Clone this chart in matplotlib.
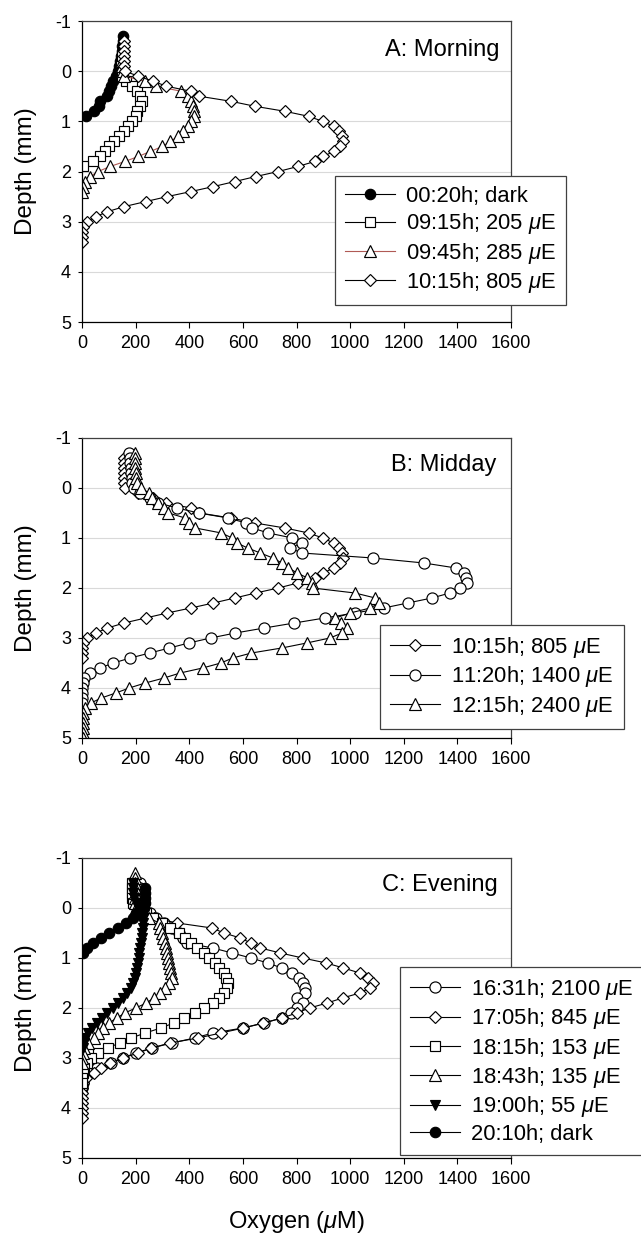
import matplotlib
matplotlib.use("Agg")
import matplotlib.pyplot as plt

plt.rcParams['font.family'] = ['Liberation Sans', 'DejaVu Sans']
plt.rcParams['mathtext.fontset'] = 'custom'
plt.rcParams['mathtext.rm'] = 'Liberation Sans'
plt.rcParams['mathtext.it'] = 'Liberation Sans:italic'
plt.rcParams['axes.unicode_minus'] = False

# ---- Panel A: morning ----
a_dark_depth = [-0.7, -0.6, -0.5, -0.4, -0.3, -0.2, -0.1, 0.0, 0.1, 0.2, 0.3, 0.4, 0.5, 0.6, 0.7, 0.8, 0.9]
a_dark_o2 = [154, 152, 150, 148, 145, 140, 137, 133, 125, 117, 108, 102, 95, 68, 62, 45, 15]

a_sq_depth = [-0.3, -0.2, -0.1, 0.0, 0.1, 0.2, 0.3, 0.4, 0.5, 0.6, 0.7, 0.8, 0.9, 1.0, 1.1, 1.2, 1.3, 1.4,
              1.5, 1.6, 1.7, 1.8, 1.9]
a_sq_o2 = [148, 148, 147, 148, 150, 165, 185, 204, 216, 223, 217, 205, 200, 186, 172, 156, 137, 120,
           101, 84, 68, 42, 5]

a_tri_depth = [-0.2, -0.1, 0.0, 0.1, 0.2, 0.3, 0.4, 0.5, 0.6, 0.7, 0.8, 0.9, 1.0, 1.1, 1.2, 1.3, 1.4,
               1.5, 1.6, 1.7, 1.8, 1.9, 2.0, 2.1, 2.2, 2.3, 2.4]
a_tri_o2 = [150, 150, 152, 158, 235, 275, 370, 395, 408, 413, 418, 416, 408, 395, 378, 358, 330,
            300, 255, 210, 160, 105, 60, 30, 12, 3, 0]

# 10:15h profile, shown in both A and B
d1015_depth = [-0.6, -0.5, -0.4, -0.3, -0.2, -0.1, 0.0, 0.1, 0.2, 0.3, 0.4, 0.5, 0.6, 0.7, 0.8, 0.9,
               1.0, 1.1, 1.2, 1.3, 1.4, 1.5, 1.6, 1.7, 1.8, 1.9, 2.0, 2.1, 2.2, 2.3, 2.4, 2.5, 2.6,
               2.7, 2.8, 2.9, 3.0, 3.1, 3.2, 3.3, 3.4]
d1015_o2 = [158, 157, 156, 155, 155, 156, 160, 210, 265, 315, 405, 438, 555, 645, 757, 845,
            898, 938, 960, 970, 972, 962, 938, 900, 868, 805, 732, 648, 570, 490, 406, 318, 237,
            157, 95, 52, 18, 5, 1, 0, 0]

# ---- Panel B: midday ----
b_circ_depth = [-0.7, -0.6, -0.5, -0.4, -0.3, -0.2, -0.1, 0.0, 0.1, 0.2, 0.3, 0.4, 0.5, 0.6, 0.7,
                0.8, 0.9, 1.0, 1.1, 1.2, 1.3, 1.4, 1.5, 1.6, 1.7, 1.8, 1.9, 2.0, 2.1, 2.2, 2.3, 2.4,
                2.5, 2.6, 2.7, 2.8, 2.9, 3.0, 3.1, 3.2, 3.3, 3.4, 3.5, 3.6, 3.7, 3.8, 3.9, 4.0, 4.1,
                4.2, 4.3]
b_circ_o2 = [175, 178, 180, 182, 183, 185, 188, 195, 215, 255, 285, 355, 435, 545, 612,
             635, 695, 785, 820, 775, 820, 1085, 1275, 1395, 1425, 1432, 1437, 1410, 1372, 1305, 1215, 1125,
             1018, 905, 792, 680, 572, 480, 398, 326, 253, 180, 117, 67, 30, 8, 2, 0, 0,
             0, 0]

b_tri_depth = [-0.7, -0.6, -0.5, -0.4, -0.3, -0.2, -0.1, 0.0, 0.1, 0.2, 0.3, 0.4, 0.5, 0.6, 0.7,
               0.8, 0.9, 1.0, 1.1, 1.2, 1.3, 1.4, 1.5, 1.6, 1.7, 1.8, 1.9, 2.0, 2.1, 2.2, 2.3, 2.4,
               2.5, 2.6, 2.7, 2.8, 2.9, 3.0, 3.1, 3.2, 3.3, 3.4, 3.5, 3.6, 3.7, 3.8, 3.9, 4.0, 4.1,
               4.2, 4.3, 4.4, 4.5, 4.6, 4.7, 4.8, 4.9, 5.0]
b_tri_o2 = [197, 197, 198, 198, 200, 202, 205, 220, 250, 262, 285, 306, 322, 385, 400,
            423, 520, 560, 578, 618, 665, 712, 745, 770, 803, 841, 858, 860, 1018, 1094, 1109, 1075,
            1000, 945, 965, 990, 970, 925, 838, 745, 632, 562, 518, 450, 366, 306, 236, 176, 126,
            72, 33, 11, 5, 3, 2, 2, 2, 2]

# ---- Panel C: evening ----
c_circ_depth = [-0.5, -0.4, -0.3, -0.2, -0.1, 0.0, 0.1, 0.2, 0.3, 0.4, 0.5, 0.6, 0.7, 0.8, 0.9, 1.0,
                1.1, 1.2, 1.3, 1.4, 1.5, 1.6, 1.7, 1.8, 1.9, 2.0, 2.1, 2.2, 2.3, 2.4, 2.5, 2.6, 2.7,
                2.8, 2.9, 3.0, 3.1, 3.2, 3.3, 3.4, 3.5, 3.6]
c_circ_o2 = [215, 215, 216, 217, 218, 225, 255, 275, 305, 335, 360, 375, 390, 488, 560, 630,
             693, 745, 785, 808, 823, 831, 831, 800, 825, 800, 778, 745, 680, 600, 488, 420, 335,
             260, 200, 152, 110, 55, 22, 8, 2, 0]

c_diam_depth = [0.0, 0.1, 0.2, 0.3, 0.4, 0.5, 0.6, 0.7, 0.8, 0.9, 1.0, 1.1, 1.2, 1.3, 1.4, 1.5, 1.6,
                1.7, 1.8, 1.9, 2.0, 2.1, 2.2, 2.3, 2.4, 2.5, 2.6, 2.7, 2.8, 2.9, 3.0, 3.1, 3.2, 3.3,
                3.4, 3.5, 3.6, 3.7, 3.8, 3.9, 4.0, 4.1, 4.2]
c_diam_o2 = [210, 240, 270, 355, 485, 530, 590, 630, 665, 740, 823, 911, 975, 1036, 1067, 1085, 1074,
             1036, 972, 914, 849, 800, 747, 675, 602, 518, 433, 328, 259, 210, 152, 104, 70, 46,
             15, 3, 0, 0, 0, 0, 0, 0, 0]

c_sq_depth = [-0.5, -0.4, -0.3, -0.2, -0.1, 0.0, 0.1, 0.2, 0.3, 0.4, 0.5, 0.6, 0.7, 0.8, 0.9, 1.0,
              1.1, 1.2, 1.3, 1.4, 1.5, 1.6, 1.7, 1.8, 1.9, 2.0, 2.1, 2.2, 2.3, 2.4, 2.5, 2.6, 2.7,
              2.8, 2.9, 3.0, 3.1, 3.2, 3.3, 3.4, 3.5]
c_sq_o2 = [185, 186, 187, 188, 190, 215, 240, 265, 300, 330, 360, 386, 405, 428, 455, 475,
           495, 512, 528, 537, 543, 541, 530, 510, 488, 455, 423, 380, 342, 294, 236, 183, 140,
           96, 61, 35, 18, 7, 2, 0, 0]

c_tri_depth = [-0.7, -0.6, -0.5, -0.4, -0.3, -0.2, -0.1, 0.0, 0.1, 0.2, 0.3, 0.4, 0.5, 0.6, 0.7, 0.8,
               0.9, 1.0, 1.1, 1.2, 1.3, 1.4, 1.5, 1.6, 1.7, 1.8, 1.9, 2.0, 2.1, 2.2, 2.3, 2.4, 2.5,
               2.6, 2.7, 2.8, 2.9, 3.0, 3.1]
c_tri_o2 = [199, 199, 199, 199, 199, 198, 198, 200, 230, 250, 288, 292, 298, 302, 308, 313,
            317, 322, 326, 330, 333, 336, 326, 311, 292, 267, 240, 200, 160, 130, 100, 80, 60,
            45, 23, 8, 2, 0, 0]

c_ftri_depth = [-0.5, -0.4, -0.3, -0.2, -0.1, 0.0, 0.1, 0.2, 0.3, 0.4, 0.5, 0.6, 0.7, 0.8, 0.9, 1.0,
                1.1, 1.2, 1.3, 1.4, 1.5, 1.6, 1.7, 1.8, 1.9, 2.0, 2.1, 2.2, 2.3, 2.4, 2.5, 2.6, 2.7, 2.8]
c_ftri_o2 = [190, 190, 192, 195, 200, 210, 222, 228, 228, 227, 225, 222, 220, 217, 214, 211,
             208, 205, 201, 198, 192, 182, 168, 152, 135, 115, 95, 75, 55, 38, 23, 13, 6, 2]

c_fcirc_depth = [-0.4, -0.3, -0.2, -0.1, 0.0, 0.1, 0.2, 0.3, 0.4, 0.5, 0.6, 0.7, 0.8, 0.9]
c_fcirc_o2 = [236, 236, 235, 234, 232, 200, 190, 165, 135, 100, 70, 42, 18, 5]

x_ticks = [0, 200, 400, 600, 800, 1000, 1200, 1400, 1600]
y_ticks = [-1, 0, 1, 2, 3, 4, 5]

W, H = 641, 1234
fig = plt.figure(figsize=(W / 100, H / 100), dpi=100)


def make_axes(top_px, bottom_px):
    ax = fig.add_axes([82 / W, 1 - bottom_px / H, 429 / W, (bottom_px - top_px) / H])
    ax.set_xlim(0, 1600)
    ax.set_ylim(5, -1)
    ax.set_xticks(x_ticks)
    ax.set_yticks(y_ticks)
    ax.yaxis.grid(True, color='#d9d9d9', linewidth=0.8)
    ax.set_axisbelow(True)
    ax.tick_params(axis='x', direction='out', length=4, width=0.8, labelsize=13, pad=5)
    ax.tick_params(axis='y', direction='out', length=3, width=0.8, labelsize=13, pad=5)
    for side in ['left', 'bottom']:
        ax.spines[side].set_color('black')
        ax.spines[side].set_linewidth(0.9)
    for side in ['top', 'right']:
        ax.spines[side].set_color('#404040')
        ax.spines[side].set_linewidth(0.9)
    ax.set_ylabel('Depth (mm)', fontsize=17.5, va='center')
    ax.yaxis.set_label_coords(-0.13, 0.5)
    return ax


def profile(ax, x, y, marker, ms, label, face='white', color='black'):
    ax.plot(x, y, color=color, linewidth=0.8, marker=marker, markersize=ms,
            markerfacecolor=face, markeredgecolor='black', markeredgewidth=0.85, label=label)


def add_legend(ax, left_px, top_px):
    leg = ax.legend(loc='upper left', bbox_to_anchor=(left_px / W, 1 - top_px / H),
                    bbox_transform=fig.transFigure, fontsize=15.8, frameon=True, fancybox=False,
                    framealpha=1, edgecolor='#404040', borderpad=0.45, labelspacing=0.2,
                    handlelength=2.3, handletextpad=0.5, borderaxespad=0)
    leg.get_frame().set_linewidth(0.9)


mu = r'$\mathit{\mu}$'

# A
ax_a = make_axes(21, 322)
profile(ax_a, a_dark_o2, a_dark_depth, 'o', 7.5, '00:20h; dark', face='black')
profile(ax_a, a_sq_o2, a_sq_depth, 's', 6.8, '09:15h; 205 ' + mu + 'E')
profile(ax_a, a_tri_o2, a_tri_depth, '^', 8, '09:45h; 285 ' + mu + 'E', color='#b05a55')
profile(ax_a, d1015_o2, d1015_depth, 'D', 6.3, '10:15h; 805 ' + mu + 'E')
ax_a.text(0.974, 0.904, 'A: Morning', transform=ax_a.transAxes, ha='right', va='center', fontsize=17)
add_legend(ax_a, 335, 176)

# B
ax_b = make_axes(438, 738)
profile(ax_b, d1015_o2, d1015_depth, 'D', 6.3, '10:15h; 805 ' + mu + 'E')
profile(ax_b, b_circ_o2, b_circ_depth, 'o', 8, '11:20h; 1400 ' + mu + 'E')
profile(ax_b, b_tri_o2, b_tri_depth, '^', 8, '12:15h; 2400 ' + mu + 'E')
ax_b.text(0.966, 0.911, 'B: Midday', transform=ax_b.transAxes, ha='right', va='center', fontsize=17)
add_legend(ax_b, 380, 625)

# C
ax_c = make_axes(858, 1158)
profile(ax_c, c_circ_o2, c_circ_depth, 'o', 8, '16:31h; 2100 ' + mu + 'E')
profile(ax_c, c_diam_o2, c_diam_depth, 'D', 6.3, '17:05h; 845 ' + mu + 'E')
profile(ax_c, c_sq_o2, c_sq_depth, 's', 6.8, '18:15h; 153 ' + mu + 'E')
profile(ax_c, c_tri_o2, c_tri_depth, '^', 8, '18:43h; 135 ' + mu + 'E')
profile(ax_c, c_ftri_o2, c_ftri_depth, 'v', 7.2, '19:00h; 55 ' + mu + 'E', face='black')
profile(ax_c, c_fcirc_o2, c_fcirc_depth, 'o', 7.5, '20:10h; dark', face='black')
ax_c.text(0.969, 0.91, 'C: Evening', transform=ax_c.transAxes, ha='right', va='center', fontsize=17)
add_legend(ax_c, 400, 967)

fig.text(296 / W, 1 - 1222 / H, 'Oxygen (' + mu + 'M)', ha='center', va='center', fontsize=17)

fig.savefig('out.png', dpi=100)
